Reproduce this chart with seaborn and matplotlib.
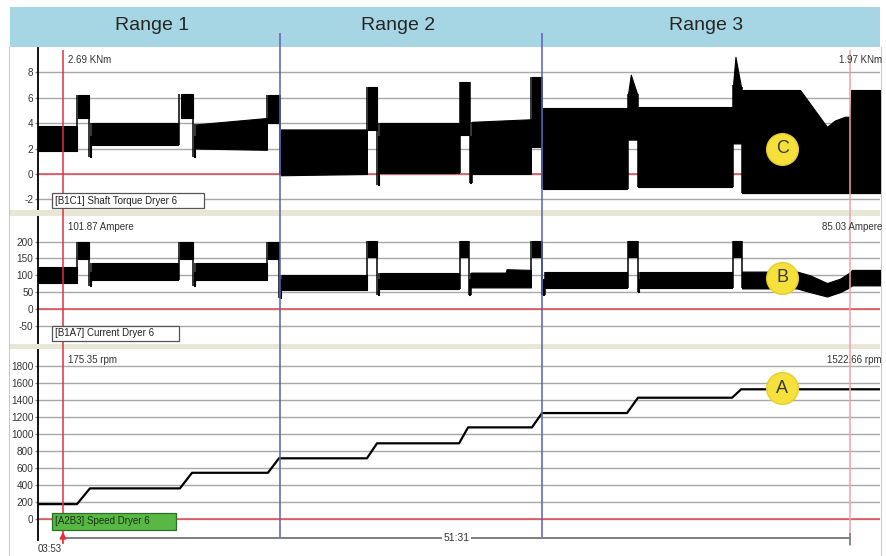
import matplotlib
matplotlib.use("Agg")
import matplotlib.pyplot as plt
import seaborn as sns
import pandas as pd
from matplotlib.patches import Rectangle

sns.set_style("white")
plt.rcParams["font.family"] = ["Liberation Sans", "DejaVu Sans"]
plt.rcParams["axes.unicode_minus"] = False

# ---------------- data (time in minutes) ----------------
range_names = ["Range 1", "Range 2", "Range 3"]
range_bounds = [18.09, 35.24]
cursors = [3.883, 55.40]
cursor_start_label = "03:53"
cursor_span_label = "51:31"
x_span = [2.25, 57.36]

torque_ticks = [-2, 0, 2, 4, 6, 8]
current_ticks = [-50, 0, 50, 100, 150, 200]
speed_ticks = [0, 200, 400, 600, 800, 1000, 1200, 1400, 1600, 1800]

torque_readings = ["2.69 KNm", "1.97 KNm"]
current_readings = ["101.87 Ampere", "85.03 Ampere"]
speed_readings = ["175.35 rpm", "1522.66 rpm"]
channel_names = ["[B1C1] Shaft Torque Dryer 6", "[B1A7] Current Dryer 6", "[A2B3] Speed Dryer 6"]

speed_t = [2.25, 4.80, 5.65, 11.54, 12.33, 17.30, 18.02, 23.78, 24.44, 29.81,
           30.40, 34.58, 35.24, 40.80, 41.52, 47.68, 48.27, 57.36]
speed_rpm = [175, 175, 360, 360, 543, 543, 713, 713, 889, 889,
             1076, 1076, 1244, 1244, 1424, 1424, 1523, 1523]

# torque envelope (min / max of the signal) per segment
torque_seg = [0, 0, 1, 1, 2, 2, 3, 3, 4, 4, 5, 5, 6, 6, 7, 7, 8, 8, 9, 9, 10, 10,
              11, 11, 12, 12, 13, 13, 14, 14, 15, 15, 16, 16, 17, 17, 17, 18, 18,
              19, 19, 19, 20, 20, 20, 20, 20, 20, 20, 20]
torque_t = [2.25, 4.80, 4.87, 5.59, 5.65, 5.72, 5.78, 11.41, 11.61, 12.39, 12.46, 12.52,
            12.59, 17.23, 17.30, 18.02, 18.15, 23.78, 23.85, 24.44, 24.50, 24.56,
            24.63, 29.81, 29.87, 30.46, 30.53, 30.59, 30.66, 34.51, 34.58, 35.17,
            35.30, 40.80, 40.87, 41.05, 41.46, 41.52, 47.68, 47.74, 47.90, 48.27,
            48.33, 52.13, 53.89, 54.40, 55.07, 55.40, 55.47, 57.36]
torque_lo = [1.8, 1.8, 4.4, 4.4, 1.3, 1.3, 2.3, 2.3, 4.4, 4.4, 1.3, 1.3,
             2.0, 1.9, 4.0, 4.0, -0.1, 0.0, 3.45, 3.45, -0.86, -0.86,
             0.05, 0.05, 3.1, 3.1, -0.7, -0.7, 0.0, 0.0, 2.1, 2.1,
             -1.2, -1.2, 2.7, 2.7, 2.7, -1.0, -1.0, 2.4, 2.4, 2.4,
             -1.5, -1.5, -1.5, -1.5, -1.5, -1.5, -1.5, -1.5]
torque_hi = [3.8, 3.8, 6.2, 6.2, 3.0, 3.0, 4.0, 4.0, 6.3, 6.3, 3.0, 3.0,
             3.9, 4.4, 6.2, 6.2, 3.5, 3.5, 6.85, 6.85, 3.0, 3.0,
             4.0, 4.0, 7.2, 7.2, 3.0, 3.0, 4.1, 4.3, 7.6, 7.6,
             5.2, 5.2, 6.3, 7.8, 6.3, 5.3, 5.3, 7.0, 9.2, 6.8,
             6.6, 6.6, 3.7, 4.2, 4.5, 4.5, 6.6, 6.6]

# current envelope per segment
current_seg = [0, 0, 1, 1, 2, 2, 3, 3, 4, 4, 5, 5, 6, 6, 7, 7, 8, 8, 9, 9, 10, 10,
               11, 11, 12, 12, 13, 13, 14, 14, 15, 15, 15, 15, 16, 16, 17, 17,
               18, 18, 19, 19, 20, 20, 21, 21, 22, 22, 23, 23, 23, 23, 23, 23, 23, 23]
current_t = [2.25, 4.80, 4.87, 5.59, 5.65, 5.72, 5.78, 11.41, 11.54, 12.39, 12.46, 12.52,
             12.59, 17.23, 17.30, 18.02, 18.09, 18.15, 18.22, 23.78, 23.85, 24.44,
             24.50, 24.56, 24.63, 29.81, 29.87, 30.40, 30.46, 30.53,
             30.59, 32.85, 32.92, 34.51, 34.58, 35.17, 35.30, 35.37,
             35.44, 40.80, 40.87, 41.46, 41.52, 41.58, 41.65, 47.68, 47.74, 48.27,
             48.33, 51.93, 52.78, 53.89, 54.75, 55.27, 55.53, 57.36]
current_lo = [78, 78, 148, 148, 68, 68, 86, 86, 148, 148, 68, 68,
              86, 86, 148, 148, 33, 33, 56, 56, 155, 155,
              42, 42, 58, 58, 155, 155, 42, 42,
              64, 64, 64, 64, 155, 155, 42, 42,
              61, 61, 154, 154, 51, 51, 61, 61, 154, 154,
              61, 61, 50, 37, 50, 62, 70, 70]
current_hi = [124, 124, 200, 200, 110, 110, 136, 136, 200, 200, 110, 110,
              136, 136, 200, 200, 90, 90, 101, 101, 203, 203,
              90, 90, 106, 106, 203, 203, 90, 90,
              108, 108, 118, 116, 203, 203, 90, 90,
              111, 111, 203, 203, 90, 90, 111, 111, 203, 203,
              111, 111, 100, 77, 90, 105, 116, 116]

marker_letters = ["C", "B", "A"]
marker_t = [50.95, 50.95, 50.95]
marker_val = [2.0, 92, 1538]

# ---------------- layout helpers ----------------
W, H = 887, 556
fig = plt.figure(figsize=(W / 100, H / 100), dpi=100)
fig.patch.set_facecolor("white")


def fx(px):
    return px / W


def fy(py):
    return 1 - py / H


def add_rect(x0, y0, x1, y1, fc, ec="none", lw=0, z=1):
    r = Rectangle((fx(x0), fy(y1)), (x1 - x0) / W, (y1 - y0) / H,
                  transform=fig.transFigure, facecolor=fc, edgecolor=ec,
                  linewidth=lw, zorder=z)
    fig.patches.append(r)


def panel(top, bottom, ylim, ticks):
    ax = fig.add_axes([fx(38), fy(bottom), (880 - 38) / W, (bottom - top) / H])
    ax.set_xlim(x_span)
    ax.set_ylim(ylim)
    ax.set_yticks(ticks)
    ax.set_xticks([])
    ax.grid(axis="y", color="#a8a8a8", lw=1.0)
    ax.grid(axis="x", visible=False)
    for s in ["top", "right", "bottom"]:
        ax.spines[s].set_visible(False)
    ax.spines["left"].set_color("black")
    ax.spines["left"].set_linewidth(1.3)
    ax.tick_params(axis="y", length=2.5, width=1, color="#888888", pad=0.8,
                   labelsize=7.2, labelcolor="#333333", left=True)
    ax.axhline(0, color="#e34a55", lw=1.1, zorder=1.5)
    ax.set_ylabel("")
    ax.set_xlabel("")
    return ax


def draw_envelope(ax, seg, t, lo, hi):
    df = pd.DataFrame(dict(seg=seg, t=t, lo=lo, hi=hi))
    groups = [g for _, g in df.groupby("seg", sort=True)]
    for g in groups:
        ax.fill_between(g["t"], g["lo"], g["hi"], facecolor="black",
                        edgecolor="black", lw=0.8, zorder=3)
    for a, b in zip(groups[:-1], groups[1:]):
        ea, sb = a.iloc[-1], b.iloc[0]
        xm = (ea["t"] + sb["t"]) / 2
        ax.vlines(xm, min(ea["lo"], sb["lo"]), max(ea["hi"], sb["hi"]),
                  color="black", lw=1.1, zorder=3)


def yellow_marker(ax, t, v, letter):
    ax.scatter([t], [v], s=520, color="#f6e13c", edgecolor="#e8cc2c",
               linewidth=1, zorder=8, clip_on=False)
    ax.text(t, v, letter, ha="center", va="center", fontsize=13,
            color="#3a3a3a", zorder=9)


# ---------------- header & frame ----------------
add_rect(10, 7, 880, 47, "#a6d6e3")
for name, cx in zip(range_names, [152, 398, 706]):
    fig.text(fx(cx), fy(26), name, ha="center", va="center",
             fontsize=14, color="#262626")
add_rect(10, 210, 880, 216, "#e8e6d4")
add_rect(10, 344, 880, 349, "#e8e6d4")
add_rect(9.5, 47, 10.5, 556, "#c8c8c8")
add_rect(881.5, 47, 882.5, 556, "#c8c8c8")

# ---------------- panels ----------------
ax1 = panel(48, 210, (-2.83, 9.9), torque_ticks)
ax2 = panel(216, 344, (-104, 276), current_ticks)
ax3 = panel(349, 540, (-246, 1996), speed_ticks)

draw_envelope(ax1, torque_seg, torque_t, torque_lo, torque_hi)
draw_envelope(ax2, current_seg, current_t, current_lo, current_hi)

speed_df = pd.DataFrame({"t": speed_t, "rpm": speed_rpm})
sns.lineplot(data=speed_df, x="t", y="rpm", ax=ax3, color="black",
             linewidth=1.6, estimator=None, sort=False, zorder=3)
ax3.set_xlabel("")
ax3.set_ylabel("")
ax3.set_xticks([])

for ax, letter, t, v in zip([ax1, ax2, ax3], marker_letters, marker_t, marker_val):
    yellow_marker(ax, t, v, letter)

# ---------------- overlay: cursors, range boundaries ----------------
ov = fig.add_axes([fx(38), 0, (880 - 38) / W, 1])
ov.set_xlim(x_span)
ov.set_ylim(H, 0)
ov.axis("off")
ov.patch.set_visible(False)
ov.set_zorder(10)
ov.vlines(range_bounds, 33, 538, color="#5d5db8", lw=1.1)
ov.vlines(cursors[0], 50, 533, color="#e3303c", lw=1.1)
ov.vlines(cursors[1], 50, 546, color="#f2a0ad", lw=1.1)
ov.hlines(538, cursors[0], cursors[1], color="#808080", lw=1.4)
ov.vlines(cursors[1], 533, 545, color="#808080", lw=1.2)
ov.annotate("", xy=(cursors[0], 529), xytext=(cursors[0], 546),
            arrowprops=dict(arrowstyle="-|>", color="#e3303c", lw=1.3,
                            mutation_scale=9))
ov.text((cursors[0] + cursors[1]) / 2, 538, cursor_span_label, ha="center",
        va="center", fontsize=7.5, color="#333333",
        bbox=dict(boxstyle="square,pad=0.1", fc="white", ec="none"))

# ---------------- texts above everything ----------------
fig.text(fx(50), fy(549), cursor_start_label, ha="center", va="center",
         fontsize=7, color="#333333", zorder=20)

for readings, yc in zip([torque_readings, current_readings, speed_readings],
                        [60, 227, 360]):
    fig.text(fx(68), fy(yc), readings[0], ha="left", va="center",
             fontsize=7, color="#333333", zorder=20)
    fig.text(fx(882), fy(yc), readings[1], ha="right", va="center",
             fontsize=7, color="#333333", zorder=20)

boxes = [(52, 193, 204, 208, "white", "#555555", "#222222"),
         (52, 326, 179, 341, "white", "#555555", "#222222"),
         (52, 513, 176, 530, "#57b843", "#2e6d2b", "#1b301b")]
for name, (x0, y0, x1, y1, fc, ec, tc) in zip(channel_names, boxes):
    add_rect(x0, y0, x1, y1, fc, ec=ec, lw=0.9, z=19)
    fig.text(fx(x0 + 3), fy((y0 + y1) / 2), name, ha="left", va="center",
             fontsize=7, color=tc, zorder=20)

fig.savefig("out.png", dpi=100)
